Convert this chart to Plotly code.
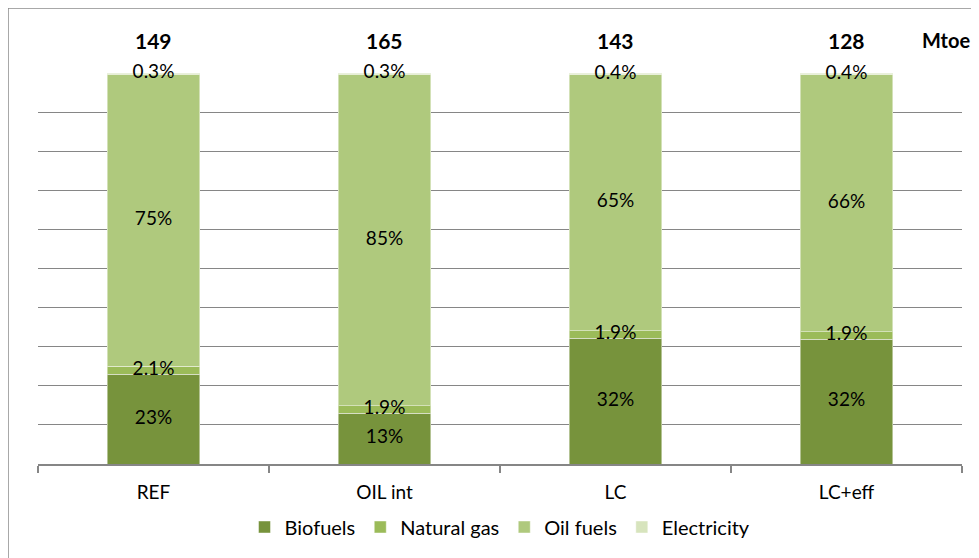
import plotly.graph_objects as go

categories = ["REF", "OIL int", "LC", "LC+eff"]
totals = [149, 165, 143, 128]
unit_label = "Mtoe"

biofuels = [23, 13, 32, 32]
natural_gas = [2.1, 1.9, 1.9, 1.9]
oil_fuels = [75, 85, 65, 66]
electricity = [0.3, 0.3, 0.4, 0.4]

series = [
    ("Biofuels", biofuels, "#77933C"),
    ("Natural gas", natural_gas, "#9BBB59"),
    ("Oil fuels", oil_fuels, "#AFC97D"),
    ("Electricity", electricity, "#D7E4BD"),
]

FONT = "Lato, Calibri, Carlito, sans-serif"
FS = 19

# page has an 8px body margin; work in figure coordinates
OFF = 8
W, H = 979 - OFF, 558 - OFF
L, R, T, B = 38 - OFF, W - (962 - OFF), 73 - OFF, H - (464 - OFF)
pw, ph = W - L - R, H - T - B

def px(x):
    return (x - OFF - L) / pw

def py(y):
    return (H - B - (y - OFF)) / ph

fig = go.Figure()
for name, vals, color in series:
    fig.add_trace(go.Bar(
        name=name, x=categories, y=vals,
        marker=dict(color=color, line=dict(color="rgba(255,255,255,0.45)", width=1)),
        hoverinfo="skip",
    ))

# labels at the centre of each (normalised) segment
sums = [sum(s[1][i] for s in series) for i in range(len(categories))]
base = [0.0] * len(categories)
for name, vals, color in series:
    mids = []
    for i, v in enumerate(vals):
        p = v / sums[i] * 100
        mids.append(base[i] + p / 2)
        base[i] += p
    fig.add_trace(go.Scatter(
        x=categories, y=mids, mode="text", text=[f"{v:g}%" for v in vals],
        textfont=dict(family=FONT, size=FS, color="#000"), showlegend=False,
        cliponaxis=False, hoverinfo="skip",
    ))

annotations = []
for c, t in zip(categories, totals):
    annotations.append(dict(x=c, y=py(40), xref="x", yref="paper", text=f"<b>{t}</b>",
                            showarrow=False, font=dict(family=FONT, size=21, color="#000"),
                            xanchor="center", yanchor="middle"))
annotations.append(dict(x=px(972), y=py(40), xref="paper", yref="paper", text=f"<b>{unit_label}</b>",
                        showarrow=False, font=dict(family=FONT, size=20, color="#000"),
                        xanchor="right", yanchor="middle"))

fig.update_layout(
    width=W, height=H,
    margin=dict(l=L, r=R, t=T, b=B, autoexpand=False),
    barmode="stack", barnorm="percent", bargap=0.6,
    paper_bgcolor="white", plot_bgcolor="white",
    font=dict(family=FONT, size=FS, color="#000"),
    showlegend=True,
    legend=dict(orientation="h", x=0.5, xanchor="center", y=py(527), yanchor="middle",
                font=dict(family=FONT, size=20), itemwidth=30, traceorder="normal",
                tracegroupgap=0),
    annotations=annotations,
    shapes=[dict(type="rect", xref="paper", yref="paper",
                 x0=px(8), x1=px(1000), y0=py(580), y1=py(8),
                 line=dict(color="#8C8C8C", width=1.5), fillcolor="rgba(0,0,0,0)", layer="below")],
    xaxis=dict(showline=True, linecolor="#868686", linewidth=1.5, ticks="outside",
               tickson="boundaries", ticklen=7, tickcolor="#868686", tickwidth=1.5,
               ticklabelstandoff=10,
               tickfont=dict(family=FONT, size=FS), showgrid=False),
    yaxis=dict(range=[0, 100], dtick=10, showgrid=True, gridcolor="#868686", gridwidth=1,
               showticklabels=False, showline=False, zeroline=False, ticks=""),
)

fig.write_html("out.html")
